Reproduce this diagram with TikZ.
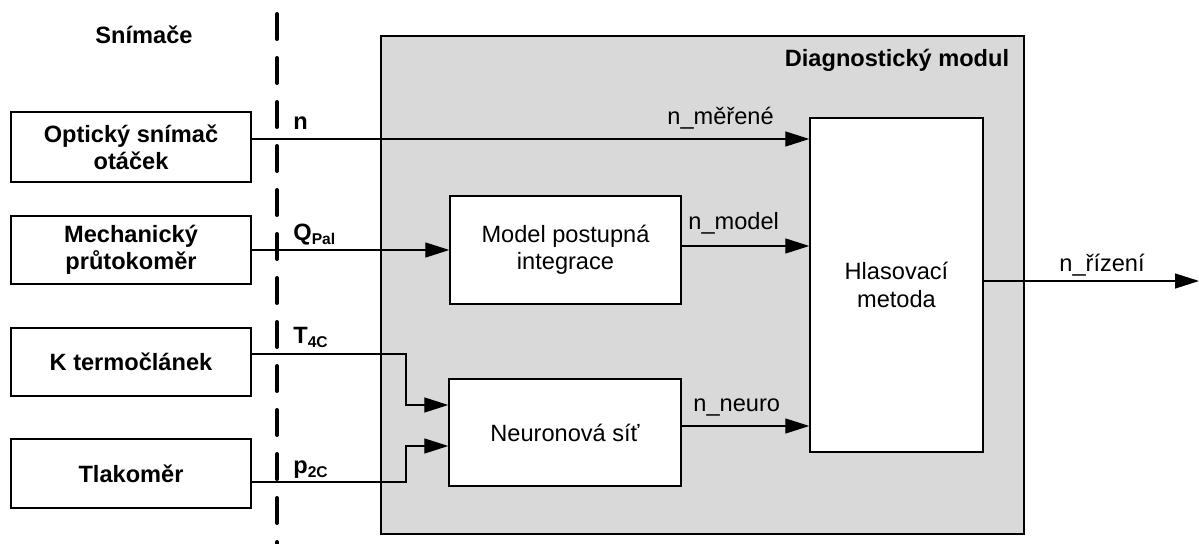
\documentclass[tikz,border=0pt]{standalone}
\usepackage{fontspec}
\setmainfont{Liberation Sans}
\usetikzlibrary{arrows.meta}
\definecolor{modgray}{RGB}{217,217,217}
\begin{document}
\begin{tikzpicture}[x=0.5pt,y=-0.5pt,
  font=\fontsize{11.8}{13.6}\selectfont,
  box/.style={draw, line width=0.7pt, fill=white, align=center, inner sep=0pt},
  sensor/.style={box, font=\fontsize{11.8}{13.6}\selectfont\bfseries, minimum width=120pt},
  wire/.style={line width=0.65pt},
  sig/.style={wire, -{Triangle[length=12pt,width=7.5pt]}},
  lbl/.style={inner sep=0pt, anchor=base west},
  blbl/.style={lbl, font=\fontsize{11.8}{13.6}\selectfont\bfseries},
  title/.style={font=\fontsize{11.8}{13.6}\selectfont\bfseries, inner sep=0pt}]
\useasboundingbox (0,0) rectangle (1199,544);

% diagnostic module background
\node[draw, line width=0.7pt, fill=modgray, minimum width=321.5pt, minimum height=249pt, inner sep=0pt] (dm) at (702.5,285) {};
\node[title] (dmlabel) at (897,60) {Diagnostický modul};

% separator between sensors and module
\draw[line width=2pt, line cap=round, dash pattern=on 12.5pt off 9.5pt] (277,14) -- (277,550);
\node[title] (snlabel) at (144,35) {Snímače};

% sensors
\node[sensor, minimum height=35pt] (s1) at (131,147) {Optický snímač\\otáček};
\node[sensor, minimum height=34pt] (s2) at (131,250) {Mechanický\\průtokoměr};
\node[sensor, minimum height=34pt] (s3) at (131,362) {K termočlánek};
\node[sensor, minimum height=34.5pt] (s4) at (131,473.5) {Tlakoměr};

% processing blocks
\node[box, minimum width=115.5pt, minimum height=54pt] (model) at (565.5,250) {Model postupná\\integrace};
\node[box, minimum width=116pt, minimum height=53.5pt] (neuro) at (565,432.5) {Neuronová síť};
\node[box, minimum width=86.5pt, minimum height=167pt] (vote) at (896.5,285) {Hlasovací\\metoda};

% signals
\draw[sig] (s1.east |- 0,139) -- (vote.west |- 0,139);
\draw[sig] (s2.east |- 0,250) -- (model.west |- 0,250);
\draw[sig] (model.east |- 0,246) -- (vote.west |- 0,246);
\draw[sig] (s3.east |- 0,354) -| (406,405) -- (neuro.west |- 0,405);
\draw[sig] (s4.east |- 0,482) -| (406,446) -- (neuro.west |- 0,446);
\draw[sig] (neuro.east |- 0,426) -- (vote.west |- 0,426);
\coordinate (out) at (1199,281);
\draw[sig] (vote.east |- out) -- (out);

% signal labels
\node[blbl] (ln) at (293,130) {n};
\node[blbl] (lq) at (293,241) {Q\textsubscript{\fontsize{7.8}{9}\selectfont Pal}};
\node[blbl] (lt) at (293,344) {T\textsubscript{\fontsize{7.8}{9}\selectfont 4C}};
\node[blbl] (lp) at (293,474) {p\textsubscript{\fontsize{7.8}{9}\selectfont 2C}};
\node[lbl] (lmer) at (667,125) {n\_měřené};
\node[lbl] (lmod) at (688,230) {n\_model};
\node[lbl] (lneu) at (693,412) {n\_neuro};
\node[lbl] (lriz) at (1059,272) {n\_řízení};
\end{tikzpicture}
\end{document}
